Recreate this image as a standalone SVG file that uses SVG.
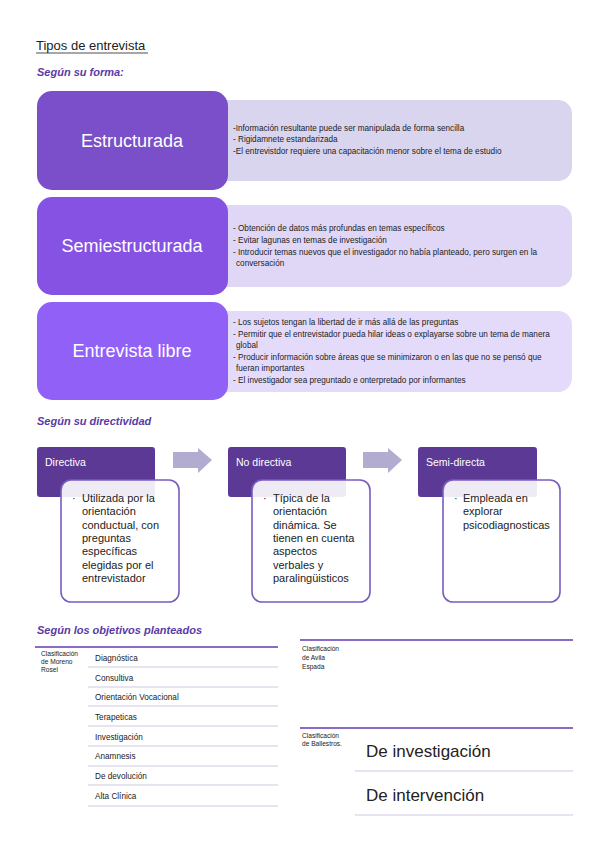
<svg xmlns="http://www.w3.org/2000/svg" width="599" height="848" viewBox="0 0 599 848">
<style>
text{font-family:"Liberation Sans","DejaVu Sans",sans-serif;}
.h{font-size:11px;font-weight:bold;font-style:italic;fill:#5a3aa6;}
.big{font-size:18px;fill:#ffffff;text-anchor:middle;}
.desc{font-size:8.2px;fill:#222;}
.hd{font-size:10.5px;fill:#ffffff;}
.card{fill:#ffffff;stroke:#7a5cc0;stroke-width:1.6;}
.cardt{font-size:11px;fill:#222;}
.small{font-size:6.6px;fill:#222;}
.row{font-size:8.2px;fill:#222;}
.rl{stroke:#cfc9e6;stroke-width:1.2;}
.tl{stroke:#8a6cc8;stroke-width:1.8;}
.arrow{fill:#b3acd1;}
</style>
<rect width="599" height="848" fill="#ffffff"/>
<text x="36" y="50" style="font-size:13px;fill:#222">Tipos de entrevista</text>
<line x1="36" y1="53" x2="148" y2="53" stroke="#222" stroke-width="0.8"/>
<text class="h" x="37" y="76">Según su forma:</text>

<g id="estructurada">
<rect x="200" y="100" width="372" height="81" rx="14" fill="#dad5ee"/>
<rect x="37" y="91" width="191" height="99" rx="15" fill="#7a4fc9"/>
<text class="big" x="132" y="147">Estructurada</text>
<text class="desc" x="233" y="131">-Información resultante puede ser manipulada de forma sencilla</text>
<text class="desc" x="233" y="142">- Rigidamnete estandarizada</text>
<text class="desc" x="233" y="154">-El entrevistdor requiere una capacitación menor sobre el tema de estudio</text>
</g>

<g id="semiestructurada">
<rect x="200" y="205" width="372" height="82" rx="14" fill="#e0d7f6"/>
<rect x="37" y="197" width="191" height="98" rx="15" fill="#8552e3"/>
<text class="big" x="132" y="252">Semiestructurada</text>
<text class="desc" x="233" y="231">- Obtención de datos más profundas en temas específicos</text>
<text class="desc" x="233" y="243">- Evitar lagunas en temas de investigación</text>
<text class="desc" x="233" y="255">- Introducir temas nuevos que el investigador no había planteado, pero surgen en la</text>
<text class="desc" x="236" y="266">conversación</text>
</g>

<g id="libre">
<rect x="200" y="311" width="372" height="81" rx="14" fill="#e4dbfb"/>
<rect x="37" y="302" width="191" height="98" rx="15" fill="#9161f7"/>
<text class="big" x="132" y="357">Entrevista libre</text>
<text class="desc" x="233" y="325">- Los sujetos tengan la libertad de ir más allá de las preguntas</text>
<text class="desc" x="233" y="337">- Permitir que el entrevistador pueda hilar ideas o explayarse sobre un tema de manera</text>
<text class="desc" x="236" y="348">global</text>
<text class="desc" x="233" y="360">- Producir información sobre áreas que se minimizaron o en las que no se pensó que</text>
<text class="desc" x="236" y="371">fueran importantes</text>
<text class="desc" x="233" y="383">- El investigador sea preguntado e onterpretado por informantes</text>
</g>

<text class="h" x="37" y="425">Según su directividad</text>

<g id="connectors">
<polygon class="arrow" points="173,452 198,452 198,448 212,460 198,473 198,468 173,468"/>
<polygon class="arrow" points="363,452 388,452 388,448 402,460 388,473 388,468 363,468"/>
</g>

<g id="directiva">
<rect x="37" y="447" width="118" height="50" rx="3" fill="#5b3995"/>
<text class="hd" x="45" y="466">Directiva</text>
<rect class="card" x="61" y="480" width="118" height="122" rx="10" fill-opacity="0.9"/>
<text class="cardt" x="72" y="502">·</text>
<text class="cardt" x="82" y="502">Utilizada por la</text>
<text class="cardt" x="82" y="515">orientación</text>
<text class="cardt" x="82" y="529">conductual, con</text>
<text class="cardt" x="82" y="542">preguntas</text>
<text class="cardt" x="82" y="555">específicas</text>
<text class="cardt" x="82" y="569">elegidas por el</text>
<text class="cardt" x="82" y="582">entrevistador</text>
</g>

<g id="nodirectiva">
<rect x="228" y="447" width="118" height="50" rx="3" fill="#5b3995"/>
<text class="hd" x="236" y="466">No directiva</text>
<rect class="card" x="252" y="480" width="118" height="122" rx="10" fill-opacity="0.9"/>
<text class="cardt" x="263" y="502">·</text>
<text class="cardt" x="273" y="502">Típica de la</text>
<text class="cardt" x="273" y="515">orientación</text>
<text class="cardt" x="273" y="529">dinámica. Se</text>
<text class="cardt" x="273" y="542">tienen en cuenta</text>
<text class="cardt" x="273" y="555">aspectos</text>
<text class="cardt" x="273" y="569">verbales y</text>
<text class="cardt" x="273" y="582">paralingüisticos</text>
</g>

<g id="semidirecta">
<rect x="418" y="447" width="119" height="50" rx="3" fill="#5b3995"/>
<text class="hd" x="426" y="466">Semi-directa</text>
<rect class="card" x="443" y="480" width="117" height="122" rx="10" fill-opacity="0.9"/>
<text class="cardt" x="454" y="502">·</text>
<text class="cardt" x="463" y="502">Empleada en</text>
<text class="cardt" x="463" y="515">explorar</text>
<text class="cardt" x="463" y="529">psicodiagnosticas</text>
</g>

<text class="h" x="37" y="634">Según los objetivos planteados</text>

<g id="moreno">
<line class="tl" x1="35" y1="647" x2="278" y2="647"/>
<text class="small" x="41" y="656">Clasificación</text>
<text class="small" x="41" y="664">de Moreno</text>
<text class="small" x="41" y="672">Rosel</text>
<text class="row" x="95" y="661">Diagnóstica</text>
<line class="rl" x1="88" y1="667" x2="278" y2="667"/>
<text class="row" x="95" y="681">Consultiva</text>
<line class="rl" x1="88" y1="687" x2="278" y2="687"/>
<text class="row" x="95" y="700">Orientación Vocacional</text>
<line class="rl" x1="88" y1="706" x2="278" y2="706"/>
<text class="row" x="95" y="720">Terapeticas</text>
<line class="rl" x1="88" y1="726" x2="278" y2="726"/>
<text class="row" x="95" y="740">Investigación</text>
<line class="rl" x1="88" y1="746" x2="278" y2="746"/>
<text class="row" x="95" y="759">Anamnesis</text>
<line class="rl" x1="88" y1="766" x2="278" y2="766"/>
<text class="row" x="95" y="779">De devolución</text>
<line class="rl" x1="88" y1="785" x2="278" y2="785"/>
<text class="row" x="95" y="799">Alta Clínica</text>
<line class="rl" x1="88" y1="806" x2="278" y2="806"/>
</g>

<g id="avila">
<line class="tl" x1="300" y1="640" x2="573" y2="640"/>
<text class="small" x="302" y="651">Clasificación</text>
<text class="small" x="302" y="660">de Avila</text>
<text class="small" x="302" y="669">Espada</text>
</g>

<g id="ballestros">
<line class="tl" x1="300" y1="728" x2="573" y2="728"/>
<text class="small" x="302" y="738">Clasificación</text>
<text class="small" x="302" y="746">de Ballestros.</text>
<text x="366" y="757" style="font-size:17px;fill:#222">De investigación</text>
<line class="rl" x1="355" y1="771" x2="573" y2="771"/>
<text x="366" y="801" style="font-size:17px;fill:#222">De intervención</text>
<line class="rl" x1="355" y1="815" x2="573" y2="815"/>
</g>
</svg>
